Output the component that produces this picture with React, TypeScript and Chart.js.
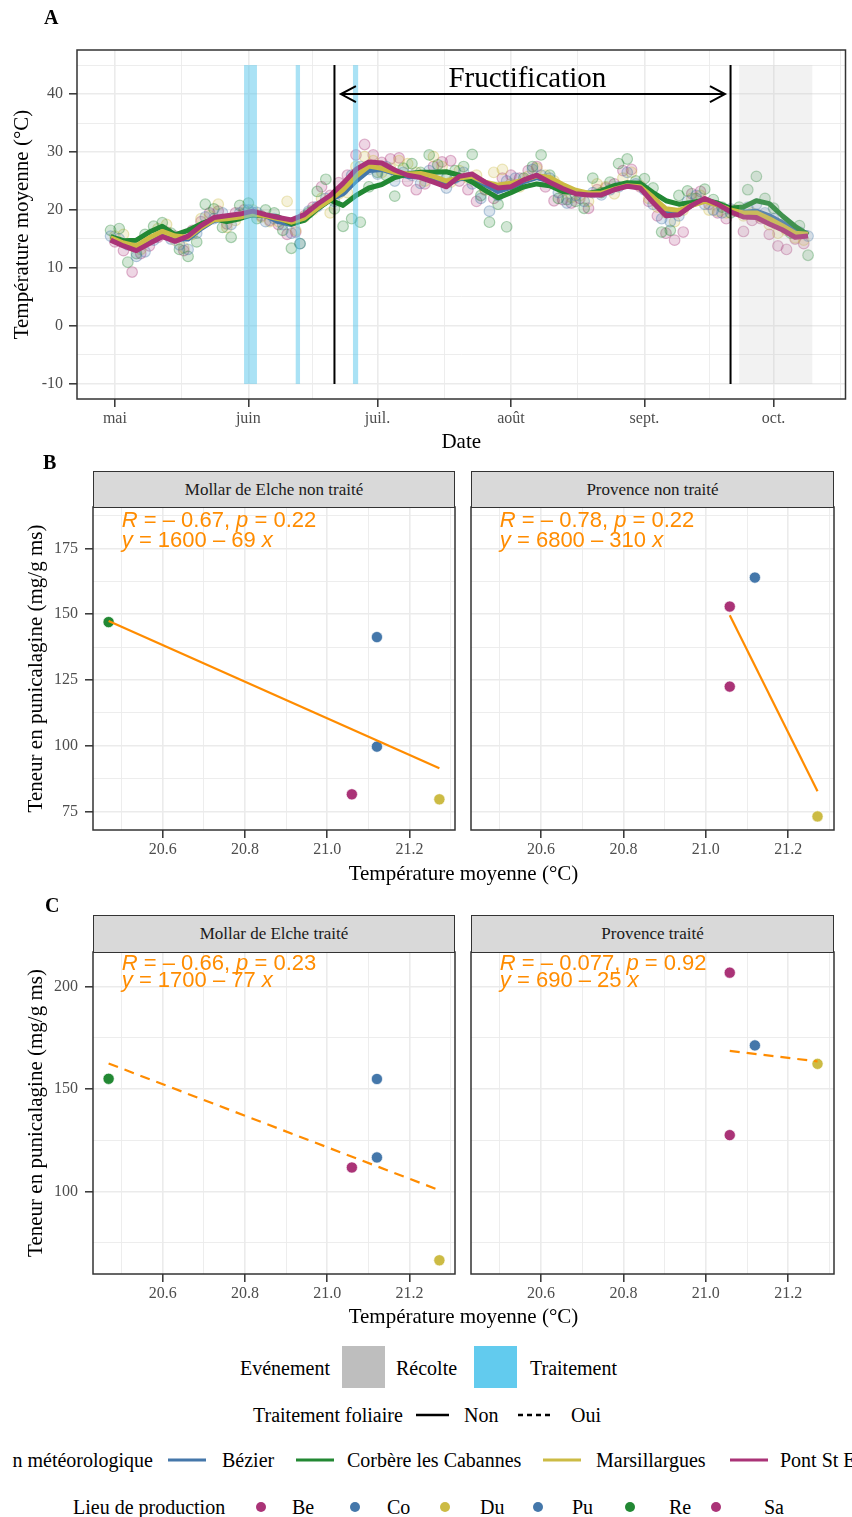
import React, { useEffect, useRef } from 'react';
import { Chart, registerables } from 'chart.js';

Chart.register(...registerables);

const SERIF = '"Liberation Serif", "Times New Roman", Times, serif';
const SANS = '"Liberation Sans", Arial, Helvetica, sans-serif';

// ---------------- Panel A : daily mean temperature ----------------
const monthDays = [121, 152, 182, 213, 244, 274];
const monthLabels = ['mai', 'juin', 'juil.', 'août', 'sept.', 'oct.'];
const monthMinorDays = [136.5, 167, 197.5, 228.5, 259, 289.5];
const tempMajorTicks = [-10, 0, 10, 20, 30, 40];
const tempMinorTicks = [-5, 5, 15, 25, 35, 45];

const stationNames = ['Bézier', 'Corbère les Cabannes', 'Marsillargues', 'Pont St Esprit'];
const stationColors = ['#4477AA', '#228833', '#CCBB44', '#AA3377'];

function dayRange(a: number, b: number, step: number) {
  const out: number[] = [];
  for (let d = a; d <= b; d += step) out.push(d);
  return out;
}
const smoothDays = dayRange(120, 282, 3);
const obsDaysEven = dayRange(120, 282, 2);
const obsDaysOdd = dayRange(121, 281, 2);

const smoothBezier = [15.0, 14.0, 13.5, 14.8, 15.8, 15.0, 15.0, 16.8, 18.2, 18.6, 19.0, 19.6, 19.0, 18.0, 17.5, 18.4, 20.2, 21.8, 22.8, 25.0, 26.8, 27.0, 26.3, 25.8, 25.8, 25.3, 24.4, 25.4, 25.6, 24.4, 23.2, 23.9, 24.9, 25.6, 25.0, 23.8, 23.0, 22.7, 22.8, 23.6, 24.2, 23.9, 22.0, 19.8, 19.6, 20.8, 21.8, 20.9, 19.9, 19.6, 19.8, 19.0, 17.8, 16.5, 16.0];
const smoothCorbere = [15.4, 14.7, 14.8, 16.2, 17.2, 15.7, 16.5, 17.6, 18.5, 18.0, 18.5, 19.2, 19.0, 18.8, 17.6, 18.2, 20.2, 21.7, 20.8, 22.5, 23.8, 24.4, 25.6, 26.2, 26.5, 26.5, 26.6, 26.0, 24.8, 23.4, 22.1, 23.0, 24.0, 24.5, 24.2, 23.2, 23.0, 22.9, 23.3, 24.2, 24.7, 24.6, 23.0, 21.6, 21.0, 21.3, 21.7, 21.2, 20.3, 20.5, 21.6, 21.1, 19.0, 17.2, 15.7];
const smoothMarsillargues = [15.2, 14.3, 13.8, 15.2, 16.3, 15.5, 15.3, 17.0, 18.3, 18.5, 18.8, 19.3, 19.0, 18.5, 17.9, 18.6, 20.3, 21.8, 23.5, 25.8, 27.6, 27.2, 26.5, 26.2, 26.3, 25.8, 25.0, 25.5, 25.8, 24.8, 24.3, 24.6, 25.2, 25.9, 25.6, 24.4, 23.4, 22.9, 22.9, 23.6, 24.2, 24.0, 22.2, 20.2, 19.9, 20.8, 21.5, 20.9, 20.0, 19.5, 19.5, 18.5, 17.3, 16.0, 15.8];
const smoothPont = [14.8, 13.8, 13.0, 14.2, 15.4, 14.6, 15.5, 17.3, 18.7, 19.0, 19.3, 19.8, 19.2, 18.7, 18.3, 19.2, 21.0, 22.5, 24.6, 27.0, 28.3, 28.1, 26.9, 26.0, 25.6, 24.8, 24.0, 25.8, 26.2, 24.8, 23.8, 24.0, 25.2, 26.0, 24.8, 23.7, 22.8, 22.6, 22.6, 23.5, 24.1, 23.8, 21.3, 19.0, 19.2, 20.8, 22.0, 21.0, 19.7, 18.8, 18.7, 17.6, 16.6, 15.3, 15.5];

const obsBezier = [15.5, 15.0, 14.0, 12.0, 12.8, 14.8, 16.5, 15.0, 14.0, 13.2, 16.0, 18.8, 18.5, 19.5, 17.5, 19.5, 20.0, 19.6, 18.0, 18.5, 17.5, 16.0, 14.2, 19.8, 20.6, 22.0, 21.5, 23.5, 26.0, 27.5, 27.0, 26.2, 27.5, 25.0, 26.5, 26.0, 24.6, 26.8, 26.0, 23.8, 25.5, 26.5, 24.5, 22.0, 19.8, 22.5, 25.0, 25.5, 24.5, 27.0, 26.0, 25.5, 23.0, 21.2, 22.5, 21.5, 23.0, 22.6, 23.5, 24.0, 26.5, 24.5, 23.5, 21.0, 18.5, 18.0, 19.0, 21.5, 22.5, 21.0, 20.0, 19.5, 20.2, 19.8, 20.5, 21.0, 19.5, 18.5, 17.3, 16.8, 16.2, 15.5];
const obsCorbere = [16.5, 16.8, 11.0, 12.5, 15.8, 17.2, 17.8, 16.0, 13.2, 12.0, 14.5, 21.0, 20.2, 17.0, 15.3, 20.8, 21.2, 18.5, 20.0, 19.5, 16.5, 13.4, 14.2, 19.5, 23.2, 25.3, 20.2, 17.2, 18.5, 17.9, 24.0, 26.5, 26.0, 22.4, 27.2, 28.0, 26.5, 29.5, 27.8, 25.5, 26.8, 27.5, 29.6, 22.5, 17.9, 21.0, 17.1, 24.2, 25.5, 27.5, 29.5, 26.0, 22.0, 21.8, 21.5, 20.3, 25.5, 23.0, 24.8, 28.0, 28.8, 25.0, 25.4, 23.8, 16.2, 16.5, 22.5, 23.3, 22.0, 23.6, 21.8, 20.5, 19.5, 20.5, 23.5, 25.8, 22.0, 20.3, 17.5, 16.0, 17.3, 12.2];
const obsMarsillargues = [15.5, 15.8, 13.8, 13.2, 15.0, 16.8, 17.5, 14.8, 13.5, 15.8, 18.5, 19.0, 21.0, 17.0, 18.2, 19.5, 20.0, 18.8, 18.0, 18.0, 21.5, 16.5, 18.8, 20.0, 22.0, 19.5, 22.8, 23.0, 27.5, 29.2, 28.5, 26.5, 27.2, 28.5, 28.0, 26.5, 25.0, 29.2, 27.5, 24.8, 26.8, 25.5, 26.0, 23.5, 26.5, 27.0, 24.5, 24.0, 25.8, 27.2, 26.0, 25.0, 23.5, 22.2, 22.5, 21.5, 24.5, 24.0, 22.8, 25.5, 26.5, 24.2, 22.0, 20.5, 19.5, 18.0, 20.0, 22.0, 22.5, 20.0, 19.8, 19.5, 20.0, 19.0, 19.5, 18.8, 17.5, 16.0, 16.5, 15.2, 14.8];
const obsPont = [14.5, 13.0, 9.3, 12.5, 13.8, 15.3, 16.2, 15.5, 13.0, 16.5, 18.0, 19.5, 19.8, 17.6, 19.5, 20.0, 19.6, 19.0, 18.2, 17.5, 15.8, 16.2, 19.0, 20.5, 24.0, 22.5, 24.7, 26.0, 29.5, 31.3, 29.5, 28.2, 28.8, 29.0, 25.0, 23.5, 24.5, 27.5, 28.3, 28.5, 25.0, 23.5, 21.5, 23.5, 22.0, 25.5, 26.0, 25.5, 26.8, 27.5, 24.0, 21.6, 21.8, 21.2, 22.0, 20.3, 23.5, 23.8, 24.5, 26.8, 27.0, 24.0, 21.5, 19.0, 16.0, 14.8, 16.2, 22.8, 23.2, 21.0, 19.5, 18.5, 19.8, 16.3, 18.2, 18.5, 15.8, 13.8, 13.2, 15.0, 14.2];

const treatmentStart = [151, 163, 176.3];
const treatmentEnd = [154, 164, 177.5];
const harvestStart = [266];
const harvestEnd = [283];
const phaseLineDays = [172, 264];
const eventYMin = -10;
const eventYMax = 45;
const fructArrowDays = [173.5, 262.7];
const fructArrowY = 40;
const fructLabel = 'Fructification';
const fructLabelDay = 216.8;
const fructLabelY = 42.6;

// ---------------- Panels B & C : punicalagin vs temperature ----------------
const lieuColors: Record<string, string> = { Be: '#AA3377', Co: '#4477AA', Du: '#CCBB44', Pu: '#4477AA', Re: '#228833', Sa: '#AA3377' };
const lieuNames = ['Be', 'Co', 'Du', 'Pu', 'Re', 'Sa'];

const mollarNTLieu = ['Re', 'Co', 'Pu', 'Sa', 'Du'];
const mollarNTTemp = [20.468, 21.121, 21.121, 21.06, 21.273];
const mollarNTPuni = [147.0, 141.3, 99.7, 81.6, 79.7];
const provenceNTLieu = ['Pu', 'Be', 'Sa', 'Du'];
const provenceNTTemp = [21.119, 21.058, 21.058, 21.271];
const provenceNTPuni = [163.9, 152.9, 122.5, 73.2];
const mollarTLieu = ['Re', 'Co', 'Pu', 'Sa', 'Du'];
const mollarTTemp = [20.468, 21.121, 21.121, 21.06, 21.273];
const mollarTPuni = [155.0, 154.9, 116.6, 111.7, 66.4];
const provenceTLieu = ['Be', 'Pu', 'Du', 'Sa'];
const provenceTTemp = [21.058, 21.119, 21.271, 21.058];
const provenceTPuni = [206.8, 171.3, 162.3, 127.5];

const corR = ['– 0.67', '– 0.78', '– 0.66', '– 0.077'];
const corP = ['0.22', '0.22', '0.23', '0.92'];
const eqIntercept = ['1600', '6800', '1700', '690'];
const eqSlope = ['69', '310', '77', '25'];
const corLabelX = 20.5;

const facetTempMajor = [20.6, 20.8, 21.0, 21.2];
const facetTempMinor = [20.5, 20.7, 20.9, 21.1, 21.3];
const puniBMajor = [75, 100, 125, 150, 175];
const puniBMinor = [87.5, 112.5, 137.5, 162.5, 187.5];
const puniCMajor = [100, 150, 200];
const puniCMinor = [75, 125, 175];

// ---------------- helpers ----------------
function rgba(hex: string, a: number) {
  const n = parseInt(hex.slice(1), 16);
  return `rgba(${(n >> 16) & 255},${(n >> 8) & 255},${n & 255},${a})`;
}
const inList = (v: number, arr: number[]) => arr.some((m) => Math.abs(m - v) < 1e-6);

function gridOpts(major: number[]) {
  return {
    color: '#EBEBEB',
    lineWidth: (c: any) => (c.tick && !inList(c.tick.value, major) ? 0.9 : 1.6),
    tickColor: (c: any) => (c.tick && inList(c.tick.value, major) ? '#333333' : 'rgba(0,0,0,0)'),
    tickLength: 8,
    tickWidth: 1.5,
    drawTicks: true,
  };
}
function zeroPad(s: any) {
  s.paddingLeft = 0; s.paddingRight = 0; s.paddingTop = 0; s.paddingBottom = 0;
}
function fit(xs: number[], ys: number[]) {
  const n = xs.length;
  const mx = xs.reduce((a, b) => a + b, 0) / n;
  const my = ys.reduce((a, b) => a + b, 0) / n;
  let sxx = 0, sxy = 0;
  for (let i = 0; i < n; i++) { sxx += (xs[i] - mx) ** 2; sxy += (xs[i] - mx) * (ys[i] - my); }
  const b = sxy / sxx;
  return { a: my - b * mx, b };
}
const tickFont = { family: SERIF, size: 16 };

// ---------------- Panel A ----------------
function PanelA() {
  const ref = useRef<HTMLCanvasElement>(null);
  useEffect(() => {
    const smooth = [smoothBezier, smoothCorbere, smoothMarsillargues, smoothPont];
    const obs = [obsBezier, obsCorbere, obsMarsillargues, obsPont];
    const obsDays = [obsDaysEven, obsDaysEven, obsDaysOdd, obsDaysOdd];
    const datasets: any[] = [];
    stationNames.forEach((name, i) => {
      datasets.push({
        label: name + ' (obs)',
        data: obs[i].map((v, k) => ({ x: obsDays[i][k], y: v })),
        showLine: false,
        pointRadius: 5.3,
        pointBackgroundColor: rgba(stationColors[i], 0.2),
        pointBorderColor: rgba(stationColors[i], 0.35),
        pointBorderWidth: 1.2,
        order: 10 + i,
      });
      datasets.push({
        label: name,
        data: smooth[i].map((v, k) => ({ x: smoothDays[k], y: v })),
        showLine: true,
        borderColor: stationColors[i],
        borderWidth: 5,
        borderJoinStyle: 'round',
        pointRadius: 0,
        tension: 0,
        order: 4 - i,
      });
    });
    const plugin = {
      id: 'panelA',
      afterDatasetsDraw(chart: any) {
        const { ctx, chartArea: ca, scales } = chart;
        const x = scales.x, y = scales.y;
        ctx.save();
        ctx.beginPath();
        ctx.rect(ca.left, ca.top, ca.right - ca.left, ca.bottom - ca.top);
        ctx.clip();
        const yTop = y.getPixelForValue(eventYMax);
        const yBot = y.getPixelForValue(eventYMin);
        ctx.fillStyle = 'rgba(190,190,190,0.2)';
        harvestStart.forEach((s, i) => {
          const x0 = x.getPixelForValue(s), x1 = x.getPixelForValue(harvestEnd[i]);
          ctx.fillRect(x0, yTop, x1 - x0, yBot - yTop);
        });
        ctx.fillStyle = 'rgba(86,197,236,0.5)';
        treatmentStart.forEach((s, i) => {
          const x0 = x.getPixelForValue(s), x1 = x.getPixelForValue(treatmentEnd[i]);
          ctx.fillRect(x0, yTop, x1 - x0, yBot - yTop);
        });
        ctx.strokeStyle = '#000';
        ctx.lineWidth = 2;
        phaseLineDays.forEach((d) => {
          const px = x.getPixelForValue(d);
          ctx.beginPath(); ctx.moveTo(px, yTop); ctx.lineTo(px, yBot); ctx.stroke();
        });
        const ay = y.getPixelForValue(fructArrowY);
        const ax0 = x.getPixelForValue(fructArrowDays[0]);
        const ax1 = x.getPixelForValue(fructArrowDays[1]);
        ctx.beginPath(); ctx.moveTo(ax0, ay); ctx.lineTo(ax1, ay); ctx.stroke();
        ctx.beginPath(); ctx.moveTo(ax0 + 15, ay - 8); ctx.lineTo(ax0, ay); ctx.lineTo(ax0 + 15, ay + 8); ctx.stroke();
        ctx.beginPath(); ctx.moveTo(ax1 - 15, ay - 8); ctx.lineTo(ax1, ay); ctx.lineTo(ax1 - 15, ay + 8); ctx.stroke();
        ctx.font = `29px ${SERIF}`;
        ctx.fillStyle = '#000';
        ctx.textAlign = 'center';
        ctx.textBaseline = 'middle';
        ctx.fillText(fructLabel, x.getPixelForValue(fructLabelDay), y.getPixelForValue(fructLabelY));
        ctx.restore();
        ctx.save();
        ctx.strokeStyle = '#333333';
        ctx.lineWidth = 1.5;
        ctx.strokeRect(ca.left, ca.top, ca.right - ca.left, ca.bottom - ca.top);
        ctx.restore();
      },
    };
    const chart = new Chart(ref.current as HTMLCanvasElement, {
      type: 'scatter',
      data: { datasets },
      options: {
        responsive: false,
        animation: false,
        events: [],
        layout: { padding: { left: 0, top: 50, right: 4, bottom: 0 } },
        plugins: { legend: { display: false }, tooltip: { enabled: false } },
        scales: {
          x: {
            type: 'linear', min: 112.2, max: 290.7,
            border: { display: false },
            grid: gridOpts(monthDays),
            ticks: {
              autoSkip: false, maxRotation: 0, minRotation: 0, padding: 2, color: '#4D4D4D', font: tickFont,
              callback: (v: any) => { const i = monthDays.indexOf(Number(v)); return i >= 0 ? monthLabels[i] : ''; },
            },
            afterBuildTicks: (s: any) => { s.ticks = [...monthDays, ...monthMinorDays].sort((a, b) => a - b).map((v) => ({ value: v })); },
            afterFit: (s: any) => { s.height = 61; zeroPad(s); },
            title: { display: true, text: 'Date', color: '#000', font: { family: SERIF, size: 21 }, padding: { top: 0, bottom: 4.5 } },
          },
          y: {
            type: 'linear', min: -12.6, max: 47.6,
            border: { display: false },
            grid: gridOpts(tempMajorTicks),
            ticks: {
              autoSkip: false, padding: 6, color: '#4D4D4D', font: tickFont,
              callback: (v: any) => (inList(Number(v), tempMajorTicks) ? String(v) : ''),
            },
            afterBuildTicks: (s: any) => { s.ticks = [...tempMajorTicks, ...tempMinorTicks].sort((a, b) => a - b).map((v) => ({ value: v })); },
            afterFit: (s: any) => { s.width = 77; zeroPad(s); },
            title: { display: true, text: 'Température moyenne (°C)', color: '#000', font: { family: SERIF, size: 21 }, padding: { top: 9.5, bottom: 0 } },
          },
        },
      } as any,
      plugins: [plugin],
    } as any);
    return () => chart.destroy();
  }, []);
  return <canvas ref={ref} width={852} height={460} style={{ position: 'absolute', left: 0, top: 0, width: 852, height: 460, display: 'block' }} />;
}

// ---------------- Facet ----------------
type FacetProps = {
  left: number; top: number; width: number; height: number;
  pad: { left: number; top: number; right: number; bottom: number };
  showY: boolean; xAxisHeight: number;
  yMin: number; yMax: number; yMajor: number[]; yMinor: number[];
  temps: number[]; values: number[]; lieux: string[];
  dashed: boolean; idx: number; labelOffsets: number[];
};

function Facet(p: FacetProps) {
  const ref = useRef<HTMLCanvasElement>(null);
  useEffect(() => {
    const { a, b } = fit(p.temps, p.values);
    const x0 = Math.min(...p.temps), x1 = Math.max(...p.temps);
    const plugin = {
      id: 'facetDeco',
      afterDatasetsDraw(chart: any) {
        const { ctx, chartArea: ca, scales } = chart;
        const lx = scales.x.getPixelForValue(corLabelX);
        const lines = [
          [['R', true], [` = ${corR[p.idx]}, `, false], ['p', true], [` = ${corP[p.idx]}`, false]],
          [['y', true], [` = ${eqIntercept[p.idx]} – ${eqSlope[p.idx]} `, false], ['x', true]],
        ];
        ctx.save();
        ctx.fillStyle = '#FF8C00';
        ctx.textBaseline = 'middle';
        ctx.textAlign = 'left';
        lines.forEach((segs: any[], li) => {
          let cx = lx;
          const cy = ca.top + p.labelOffsets[li];
          segs.forEach(([t, it]) => {
            ctx.font = `${it ? 'italic ' : ''}22px ${SANS}`;
            ctx.fillText(t, cx, cy);
            cx += ctx.measureText(t).width;
          });
        });
        ctx.restore();
        ctx.save();
        ctx.strokeStyle = '#333333';
        ctx.lineWidth = 1.5;
        ctx.strokeRect(ca.left, ca.top, ca.right - ca.left, ca.bottom - ca.top);
        ctx.restore();
      },
    };
    const chart = new Chart(ref.current as HTMLCanvasElement, {
      type: 'scatter',
      data: {
        datasets: [
          {
            label: 'régression',
            data: [{ x: x0, y: a + b * x0 }, { x: x1, y: a + b * x1 }],
            showLine: true, borderColor: '#FF8C00', borderWidth: 2.2,
            borderDash: p.dashed ? [10, 7] : [], pointRadius: 0, order: 1,
          },
          {
            label: 'mesures',
            data: p.temps.map((t, i) => ({ x: t, y: p.values[i] })),
            pointRadius: 5.6,
            pointBackgroundColor: p.lieux.map((l) => lieuColors[l]),
            pointBorderColor: 'rgba(255,255,255,0.8)',
            pointBorderWidth: 0.8,
            order: 2,
          },
        ],
      },
      options: {
        responsive: false,
        animation: false,
        events: [],
        layout: { padding: p.pad },
        plugins: { legend: { display: false }, tooltip: { enabled: false } },
        scales: {
          x: {
            type: 'linear', min: 20.43, max: 21.311,
            border: { display: false },
            grid: gridOpts(facetTempMajor),
            ticks: {
              autoSkip: false, maxRotation: 0, minRotation: 0, padding: 2, color: '#4D4D4D', font: tickFont,
              callback: (v: any) => (inList(Number(v), facetTempMajor) ? Number(v).toFixed(1) : ''),
            },
            afterBuildTicks: (s: any) => { s.ticks = [...facetTempMajor, ...facetTempMinor].sort((m, n) => m - n).map((v) => ({ value: v })); },
            afterFit: (s: any) => { s.height = p.xAxisHeight; zeroPad(s); },
          },
          y: {
            type: 'linear', min: p.yMin, max: p.yMax,
            border: { display: false },
            grid: { ...gridOpts(p.yMajor), drawTicks: p.showY },
            ticks: {
              display: p.showY, autoSkip: false, padding: 7, color: '#4D4D4D', font: tickFont,
              callback: (v: any) => (inList(Number(v), p.yMajor) ? String(v) : ''),
            },
            afterBuildTicks: (s: any) => { s.ticks = [...p.yMajor, ...p.yMinor].sort((m, n) => m - n).map((v) => ({ value: v })); },
            afterFit: (s: any) => { s.width = p.showY ? 93 : 0; zeroPad(s); },
            title: {
              display: p.showY, text: 'Teneur en punicalagine (mg/g ms)', color: '#000',
              font: { family: SERIF, size: 21 }, padding: { top: 24, bottom: 0 },
            },
          },
        },
      } as any,
      plugins: [plugin],
    } as any);
    return () => chart.destroy();
  }, []);
  return (
    <canvas ref={ref} width={p.width} height={p.height}
      style={{ position: 'absolute', left: p.left, top: p.top, width: p.width, height: p.height, display: 'block' }} />
  );
}

// ---------------- HTML text helpers ----------------
function Txt({ x, y, size, children, anchor = 'left', bold = false, color = '#000', family = SERIF }: any) {
  const tf = anchor === 'center' ? 'translate(-50%,-50%)' : anchor === 'right' ? 'translate(-100%,-50%)' : 'translateY(-50%)';
  return (
    <div style={{ position: 'absolute', left: x, top: y, transform: tf, fontSize: size, fontFamily: family, fontWeight: bold ? 700 : 400, lineHeight: 1, whiteSpace: 'nowrap', color }}>
      {children}
    </div>
  );
}
function Strip({ left, top, width, height, text }: any) {
  return (
    <div style={{ position: 'absolute', left, top, width, height, boxSizing: 'border-box', background: '#D9D9D9', border: '1.3px solid #333333', display: 'flex', alignItems: 'center', justifyContent: 'center', fontFamily: SERIF, fontSize: 17, color: '#1A1A1A', whiteSpace: 'nowrap' }}>
      {text}
    </div>
  );
}
function LineKey({ x, y, w, color, dash, sw = 3 }: any) {
  return (
    <svg style={{ position: 'absolute', left: x, top: y - 5 }} width={w} height={10}>
      <line x1={0} y1={5} x2={w} y2={5} stroke={color} strokeWidth={sw} strokeDasharray={dash} />
    </svg>
  );
}
function DotKey({ cx, cy, r, color }: any) {
  return (
    <svg style={{ position: 'absolute', left: cx - r - 1, top: cy - r - 1 }} width={2 * r + 2} height={2 * r + 2}>
      <circle cx={r + 1} cy={r + 1} r={r} fill={color} />
    </svg>
  );
}

const facetNames = ['Mollar de Elche non traité', 'Provence non traité', 'Mollar de Elche traité', 'Provence traité'];

export default function App() {
  const LEG = 20;
  const stationKeyX = [168, 296, 543, 730];
  const stationTextX = [222, 347, 596, 780];
  const dotX = [261, 355, 445, 538, 630, 716];
  const dotTextX = [292, 387, 480, 572, 669, 764];
  return (
    <div style={{ position: 'absolute', left: 0, top: 0, width: 852, height: 1517, overflow: 'hidden', background: '#FFFFFF' }}>
      <PanelA />
      <Facet left={0} top={500} width={462} height={365} pad={{ left: 0, top: 7, right: 7, bottom: 0 }} showY xAxisHeight={35}
        yMin={68.05} yMax={190.7} yMajor={puniBMajor} yMinor={puniBMinor}
        temps={mollarNTTemp} values={mollarNTPuni} lieux={mollarNTLieu} dashed={false} idx={0} labelOffsets={[13.7, 33.7]} />
      <Facet left={462} top={500} width={390} height={365} pad={{ left: 9, top: 7, right: 18, bottom: 0 }} showY={false} xAxisHeight={35}
        yMin={68.05} yMax={190.7} yMajor={puniBMajor} yMinor={puniBMinor}
        temps={provenceNTTemp} values={provenceNTPuni} lieux={provenceNTLieu} dashed={false} idx={1} labelOffsets={[13.7, 33.7]} />
      <Facet left={0} top={945} width={462} height={365} pad={{ left: 0, top: 7, right: 7, bottom: 0 }} showY xAxisHeight={36}
        yMin={59.7} yMax={216.9} yMajor={puniCMajor} yMinor={puniCMinor}
        temps={mollarTTemp} values={mollarTPuni} lieux={mollarTLieu} dashed idx={2} labelOffsets={[12.2, 28.6]} />
      <Facet left={462} top={945} width={390} height={365} pad={{ left: 9, top: 7, right: 18, bottom: 0 }} showY={false} xAxisHeight={36}
        yMin={59.7} yMax={216.9} yMajor={puniCMajor} yMinor={puniCMinor}
        temps={provenceTTemp} values={provenceTPuni} lieux={provenceTLieu} dashed idx={3} labelOffsets={[12.2, 28.6]} />

      <Strip left={93} top={471} width={362} height={37} text={facetNames[0]} />
      <Strip left={471} top={471} width={363} height={37} text={facetNames[1]} />
      <Strip left={93} top={915} width={362} height={38} text={facetNames[2]} />
      <Strip left={471} top={915} width={363} height={38} text={facetNames[3]} />

      <Txt x={44} y={17} size={20} bold>A</Txt>
      <Txt x={43} y={461.5} size={20} bold>B</Txt>
      <Txt x={45} y={905} size={20} bold>C</Txt>

      <Txt x={463.5} y={873} size={21} anchor="center">Température moyenne (°C)</Txt>
      <Txt x={463.5} y={1316} size={21} anchor="center">Température moyenne (°C)</Txt>

      {/* Legend row 1: Evénement */}
      <Txt x={240} y={1368} size={LEG}>Evénement</Txt>
      <div style={{ position: 'absolute', left: 342, top: 1346, width: 43, height: 42, background: '#BEBEBE' }} />
      <Txt x={396} y={1368} size={LEG}>Récolte</Txt>
      <div style={{ position: 'absolute', left: 474, top: 1346, width: 43, height: 42, background: '#62CBEE' }} />
      <Txt x={530} y={1368} size={LEG}>Traitement</Txt>

      {/* Legend row 2: Traitement foliaire */}
      <Txt x={253} y={1415} size={LEG}>Traitement foliaire</Txt>
      <LineKey x={416} y={1415} w={33} color="#000" sw={2.5} />
      <Txt x={464} y={1415} size={LEG}>Non</Txt>
      <LineKey x={518} y={1415} w={36} color="#000" sw={2.5} dash="5 4" />
      <Txt x={571} y={1415} size={LEG}>Oui</Txt>

      {/* Legend row 3: Station météorologique (clipped on both sides like the original) */}
      <div style={{ position: 'absolute', left: 12, top: 1440, width: 840, height: 40, overflow: 'hidden' }}>
        <Txt x={153 - 12} y={20} size={LEG} anchor="right">Station météorologique</Txt>
        {stationNames.map((n, i) => (
          <React.Fragment key={n}>
            <LineKey x={stationKeyX[i] - 12} y={20} w={38} color={stationColors[i]} sw={3} />
            <Txt x={stationTextX[i] - 12} y={20} size={LEG}>{n}</Txt>
          </React.Fragment>
        ))}
      </div>

      {/* Legend row 4: Lieu de production */}
      <Txt x={73} y={1507} size={LEG}>Lieu de production</Txt>
      {lieuNames.map((n, i) => (
        <React.Fragment key={n}>
          <DotKey cx={dotX[i]} cy={1507} r={5} color={lieuColors[n]} />
          <Txt x={dotTextX[i]} y={1507} size={LEG}>{n}</Txt>
        </React.Fragment>
      ))}
    </div>
  );
}
